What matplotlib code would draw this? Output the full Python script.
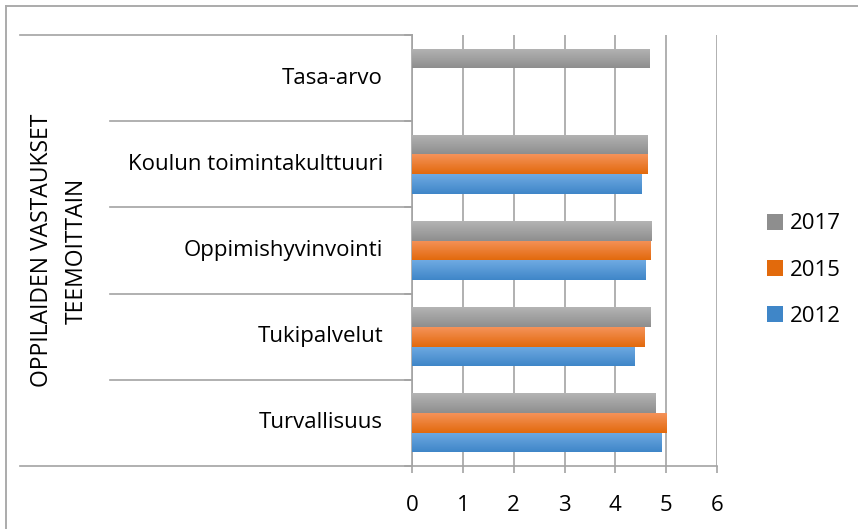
import numpy as np
import matplotlib
matplotlib.use("Agg")
import matplotlib.pyplot as plt
from matplotlib.colors import LinearSegmentedColormap
from matplotlib.lines import Line2D
from matplotlib.transforms import blended_transform_factory

plt.rcParams['font.family'] = ['Open Sans', 'DejaVu Sans']

categories = ["Turvallisuus", "Tukipalvelut", "Oppimishyvinvointi",
              "Koulun toimintakulttuuri", "Tasa-arvo"]
v2012 = [4.90, 4.37, 4.59, 4.51, np.nan]
v2015 = [5.00, 4.57, 4.69, 4.63, np.nan]
v2017 = [4.80, 4.69, 4.72, 4.63, 4.67]
group_label = "OPPILAIDEN VASTAUKSET\nTEEMOITTAIN"
xticks = [0, 1, 2, 3, 4, 5, 6]

series = [("2012", v2012, ("#6FAAE2", "#3F86C8")),
          ("2015", v2015, ("#F5925A", "#E26A0C")),
          ("2017", v2017, ("#B4B4B4", "#8E8E8E"))]

FS = 16
W, H = 858, 529
fig = plt.figure(figsize=(W / 100, H / 100), dpi=100)
ax = fig.add_axes([412 / W, 1 - 466 / H, (717 - 412) / W, (466 - 35) / H])

# outer frame (only top and left edges are visible in the crop)
fig.lines.append(Line2D([5.5 / W, 1], [1 - 5.5 / H, 1 - 5.5 / H],
                        transform=fig.transFigure, color="#ABABAB", lw=1.4))
fig.lines.append(Line2D([5.5 / W, 5.5 / W], [0, 1 - 5.5 / H],
                        transform=fig.transFigure, color="#ABABAB", lw=1.4))

y = np.arange(len(categories))
h = 0.228
offsets = [-h, 0, h]
grid_c = "#A3A3A3"

for xv in xticks:
    ax.axvline(xv, color=grid_c, lw=1.2, zorder=0)

for (name, vals, (ctop, cbot)), off in zip(series, offsets):
    bars = ax.barh(y + off, vals, height=h, color=cbot, label=name, zorder=2)
    cmap = LinearSegmentedColormap.from_list(name, [cbot, ctop])
    grad = np.linspace(0, 1, 64).reshape(-1, 1)
    for p in bars.patches:
        wdt = p.get_width()
        if not np.isfinite(wdt) or wdt == 0:
            continue
        x0, y0 = p.get_x(), p.get_y()
        im = ax.imshow(grad, cmap=cmap, origin="lower", aspect="auto",
                       extent=[x0, x0 + wdt, y0, y0 + p.get_height()],
                       zorder=3, interpolation="bilinear")
        im.set_clip_path(p)

ax.set_xlim(0, 6)
ax.set_ylim(-0.5, len(categories) - 0.5)
ax.set_xticks(xticks)
ax.set_xticklabels([str(t) for t in xticks], fontsize=FS)
ax.tick_params(axis="x", length=5, color=grid_c, width=1.2, pad=16, direction="out")
ax.set_yticks([])
for s in ["top", "right"]:
    ax.spines[s].set_visible(False)
ax.spines["left"].set_color(grid_c)
ax.spines["bottom"].set_color(grid_c)
ax.spines["left"].set_linewidth(1.2)
ax.spines["bottom"].set_linewidth(1.2)

# multi-level category axis
tr = blended_transform_factory(ax.transAxes, ax.transData)
ax_w_px = 717 - 412
inner_x = (110 - 412) / ax_w_px
outer_x = (20 - 412) / ax_w_px
tick_x = (405 - 412) / ax_w_px
bounds = np.arange(len(categories) + 1) - 0.5
for i, b in enumerate(bounds):
    x_start = outer_x if i in (0, len(bounds) - 1) else inner_x
    ax.plot([x_start, 0], [b, b], transform=tr, color=grid_c, lw=1.2, clip_on=False)
    ax.plot([tick_x, 0], [b, b], transform=tr, color=grid_c, lw=1.2, clip_on=False)
lab_x = (383 - 412) / ax_w_px
for yi, c in zip(y, categories):
    ax.text(lab_x, yi, c, transform=tr, ha="right", va="center", fontsize=FS)
ax.text((59 - 412) / ax_w_px, 0.5, group_label, transform=ax.transAxes,
        rotation=90, ha="center", va="center", fontsize=16.5, linespacing=1.6,
        multialignment="center")

handles, labels = ax.get_legend_handles_labels()
leg = fig.legend(handles[::-1], labels[::-1], loc="center left",
                 bbox_to_anchor=(747 / W, 1 - 270 / H), frameon=False,
                 fontsize=FS, handlelength=0.72, handleheight=0.72,
                 labelspacing=1.13, handletextpad=0.3)

fig.savefig("out.png", dpi=100)
